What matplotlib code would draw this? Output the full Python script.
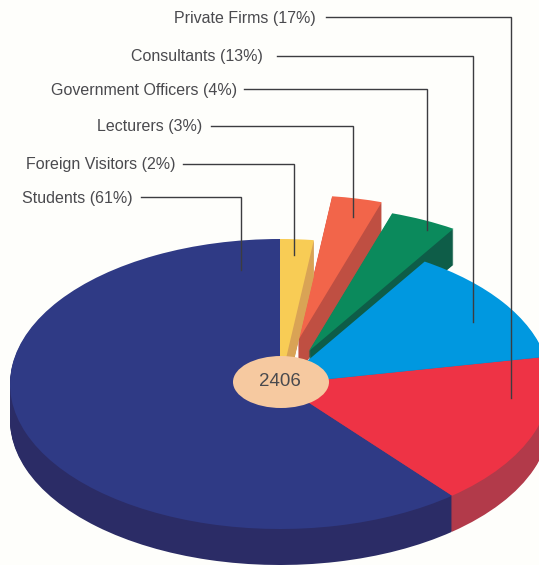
#!/usr/bin/env python3
"""Tilted pie with leader-line labels, total in an oval at the middle."""
import matplotlib
matplotlib.use("Agg")
import matplotlib.pyplot as plt
from matplotlib.patches import Ellipse

plt.rcParams["font.family"] = ["Liberation Sans", "DejaVu Sans"]

# pie runs counter-clockwise from 12 o'clock
categories = ["Students", "Private Firms", "Consultants", "Government Officers", "Lecturers", "Foreign Visitors"]
shares = [61, 17, 13, 4, 3, 2]
total = 2406

explode = [0, 0, 0, 0.25, 0.31, 0]
TOPS = ["#2f3a85", "#ee3345", "#0098e0", "#0b8a5c", "#f2654a", "#f8cc55"]
SIDES = ["#2b2c66", "#b23a4a", "#0079b5", "#0e5d48", "#bf4f42", "#d9a355"]
BG = "#fefefb"; INK = "#4a4a4e"

W, H = 539, 565
CX, CY = 280, 384    # pie centre in px
RX, RY = 270, 145    # squashed radii in px
DEPTH = 36

fig = plt.figure(figsize=(W/100, H/100), dpi=100, facecolor=BG)
ax = fig.add_axes([0, 0, 1, 1])

# stack of offset pies makes the wall, the two far slices go behind the rest
for d in range(DEPTH, -1, -1):
    colors = TOPS if d == 0 else SIDES
    wedges, _ = ax.pie(shares, colors=colors, explode=explode, startangle=90,
                       center=(0, -d/RY), normalize=True, frame=True,
                       wedgeprops={"linewidth": 0})
    for i, w in enumerate(wedges):
        w.set_zorder((1 if explode[i] > 0 else 100) + (DEPTH - d))

ax.set_aspect("auto")
ax.set_xlim(-CX/RX, (W-CX)/RX)
ax.set_ylim((CY-H)/RY, CY/RY)
ax.axis("off")

# overlay in px for labels
ov = fig.add_axes([0, 0, 1, 1]); ov.set_xlim(0, W); ov.set_ylim(H, 0)
ov.axis("off"); ov.patch.set_alpha(0)

# category -> text right edge, line start, elbow x, line end y, row y
leaders = {
    "Private Firms": (316, 326, 511, 398, 17),
    "Consultants": (263, 277, 473, 322, 56),
    "Government Officers": (237, 244, 427, 230, 89),
    "Lecturers": (202, 211, 353, 217, 126),
    "Foreign Visitors": (175, 183, 294, 255, 164),
    "Students": (133, 141, 241, 270, 197),
}
for name, share in zip(categories, shares):
    tx, x0, xe, ye, y = leaders[name]
    ov.text(tx, y+1, f"{name} ({share}%)", ha="right", va="center", fontsize=11.5, color=INK)
    ov.plot([x0, xe, xe], [y, y, ye], color="#3c3c40", lw=1.0, solid_joinstyle="miter")

ov.add_patch(Ellipse((281, 382), 96, 52, fc="#f6c9a0", ec="none"))
ov.text(280, 382, str(total), ha="center", va="center", fontsize=13.5, color=INK)

fig.savefig("out.png", dpi=100, facecolor=BG)
